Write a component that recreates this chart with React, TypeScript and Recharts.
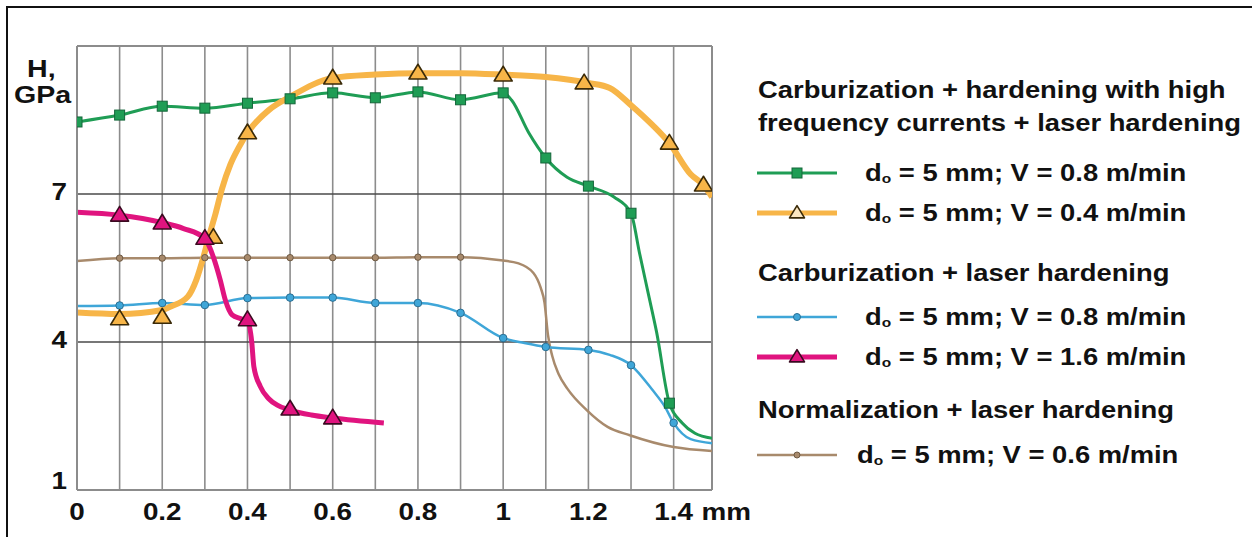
import { ComposedChart, Line, Scatter, XAxis, YAxis, CartesianGrid, ReferenceLine } from 'recharts';

// grid / ticks
const xGrid = [0, 0.1, 0.2, 0.3, 0.4, 0.5, 0.6, 0.7, 0.8, 0.9, 1.0, 1.1, 1.2, 1.3, 1.4];
const xTickLabels = ['0', '', '0.2', '', '0.4', '', '0.6', '', '0.8', '', '1', '', '1.2', '', '1.4'];
const yTicks = [1, 4, 7];

// Carburization + HFC hardening + laser, V = 0.8 (green)
const greenDepth = [0, 0.1, 0.2, 0.3, 0.4, 0.5, 0.6, 0.7, 0.8, 0.9, 1.0, 1.02, 1.06, 1.1, 1.15, 1.2, 1.26, 1.3, 1.32, 1.34, 1.36, 1.39, 1.42, 1.45, 1.49];
const greenH = [8.46, 8.6, 8.78, 8.74, 8.84, 8.93, 9.05, 8.95, 9.07, 8.91, 9.05, 8.9, 8.24, 7.73, 7.34, 7.16, 6.94, 6.61, 5.8, 5.0, 4.2, 2.76, 2.36, 2.15, 2.05];
const greenMarkDepth = [0, 0.1, 0.2, 0.3, 0.4, 0.5, 0.6, 0.7, 0.8, 0.9, 1.0, 1.1, 1.2, 1.3, 1.39];
const greenMarkH = [8.46, 8.6, 8.78, 8.74, 8.84, 8.93, 9.05, 8.95, 9.07, 8.91, 9.05, 7.73, 7.16, 6.61, 2.76];

// V = 0.4 (orange)
const orangeDepth = [0, 0.1, 0.2, 0.22, 0.26, 0.28, 0.296, 0.31, 0.325, 0.34, 0.36, 0.38, 0.4, 0.45, 0.5, 0.6, 0.7, 0.8, 0.9, 1.0, 1.1, 1.2, 1.25, 1.3, 1.35, 1.39, 1.44, 1.47, 1.49];
const orangeH = [4.6, 4.57, 4.65, 4.72, 4.92, 5.26, 5.7, 6.15, 6.6, 7.1, 7.6, 7.95, 8.24, 8.7, 8.97, 9.35, 9.42, 9.45, 9.45, 9.42, 9.37, 9.25, 9.15, 8.8, 8.4, 8.03, 7.4, 7.18, 6.94];
const orangeMarkDepth = [0.1, 0.2, 0.32, 0.4, 0.6, 0.8, 1.0, 1.19, 1.39, 1.47];
const orangeMarkH = [4.47, 4.5, 6.12, 8.24, 9.35, 9.45, 9.41, 9.25, 8.03, 7.18];

// Carburization + laser, V = 0.8 (blue)
const blueDepth = [0, 0.1, 0.2, 0.3, 0.4, 0.5, 0.6, 0.7, 0.8, 0.9, 1.0, 1.05, 1.1, 1.2, 1.25, 1.3, 1.35, 1.38, 1.4, 1.44, 1.49];
const blueH = [4.73, 4.74, 4.79, 4.75, 4.89, 4.9, 4.9, 4.79, 4.79, 4.59, 4.08, 3.98, 3.9, 3.84, 3.74, 3.53, 3.03, 2.68, 2.36, 2.03, 1.95];
const blueMarkDepth = [0.1, 0.2, 0.3, 0.4, 0.5, 0.6, 0.7, 0.8, 0.9, 1.0, 1.1, 1.2, 1.3, 1.4];
const blueMarkH = [4.74, 4.79, 4.75, 4.89, 4.9, 4.9, 4.79, 4.79, 4.59, 4.08, 3.9, 3.84, 3.53, 2.36];

// V = 1.6 (magenta)
const magentaDepth = [0, 0.1, 0.2, 0.25, 0.3, 0.32, 0.336, 0.348, 0.364, 0.385, 0.4, 0.41, 0.415, 0.43, 0.45, 0.47, 0.5, 0.55, 0.6, 0.72];
const magentaH = [6.63, 6.57, 6.42, 6.3, 6.1, 5.72, 5.26, 4.85, 4.55, 4.47, 4.42, 4.0, 3.5, 3.1, 2.85, 2.72, 2.62, 2.52, 2.46, 2.36];
const magentaMarkDepth = [0.1, 0.2, 0.3, 0.4, 0.5, 0.6];
const magentaMarkH = [6.57, 6.41, 6.1, 4.45, 2.64, 2.46];

// Normalization + laser, V = 0.6 (brown)
const brownDepth = [0, 0.1, 0.2, 0.3, 0.4, 0.5, 0.6, 0.7, 0.8, 0.9, 1.0, 1.034, 1.071, 1.088, 1.097, 1.105, 1.115, 1.13, 1.151, 1.196, 1.245, 1.297, 1.4, 1.49];
const brownH = [5.64, 5.7, 5.7, 5.71, 5.71, 5.71, 5.71, 5.71, 5.72, 5.72, 5.65, 5.6, 5.4, 5.1, 4.8, 4.15, 3.72, 3.35, 3.05, 2.62, 2.28, 2.11, 1.87, 1.79];
const brownMarkDepth = [0.1, 0.2, 0.3, 0.4, 0.5, 0.6, 0.7, 0.8, 0.9];
const brownMarkH = [5.7, 5.7, 5.71, 5.71, 5.71, 5.71, 5.71, 5.72, 5.72];

const legendTitles = [
  ['Carburization + hardening with high', 'frequency currents + laser hardening'],
  ['Carburization + laser hardening'],
  ['Normalization + laser hardening'],
];
const legendSpeeds = ['0.8', '0.4', '0.8', '1.6', '0.6'];

const toPoints = (xs: number[], ys: number[]) => xs.map((x, i) => ({ x, y: ys[i] }));

const FONT = "'Liberation Sans', Arial, Helvetica, sans-serif";
const STRETCH = 1.16;

const GREEN = '#1f9d55';
const ORANGE = '#f7b548';
const BLUE = '#3fa6d8';
const MAGENTA = '#e0147f';
const BROWN = '#a88a6c';

const triangle = (cx: number, cy: number, fill: string, stroke: string, w = 18) => {
  const h = w * 0.82;
  return (
    <polygon
      points={`${cx},${cy - h * 0.6} ${cx + w / 2},${cy + h * 0.4} ${cx - w / 2},${cy + h * 0.4}`}
      fill={fill}
      stroke={stroke}
      strokeWidth={1.6}
      strokeLinejoin="round"
    />
  );
};

const XTick = (props: any) => {
  const { x, y, index } = props;
  const label = xTickLabels[index];
  if (!label) return <g />;
  return (
    <g transform={`translate(${x},${y + 30})`}>
      <text transform={`scale(${STRETCH},1)`} textAnchor="middle" fontFamily={FONT} fontWeight="bold" fontSize={24} fill="#111">
        {label}
      </text>
      {label === '1.4' && (
        <text x={24} transform={`scale(${STRETCH},1)`} fontFamily={FONT} fontWeight="bold" fontSize={24} fill="#111">
          mm
        </text>
      )}
    </g>
  );
};

const YTick = (props: any) => {
  const { x, y, payload } = props;
  const shift = payload.value === 1 ? -10 : -3;
  return (
    <g transform={`translate(${x - 10},${y + shift})`}>
      <text transform={`scale(${STRETCH},1)`} textAnchor="end" dy="0.36em" fontFamily={FONT} fontWeight="bold" fontSize={24} fill="#111">
        {payload.value}
      </text>
    </g>
  );
};

const sample = (kind: string) => {
  const y = 14;
  if (kind === 'green')
    return (
      <svg width={84} height={28}>
        <line x1={1} x2={81} y1={y} y2={y} stroke={GREEN} strokeWidth={3} />
        <rect x={36} y={y - 5} width={10} height={10} fill={GREEN} stroke="#14663a" />
      </svg>
    );
  if (kind === 'orange')
    return (
      <svg width={84} height={28}>
        <line x1={1} x2={81} y1={y} y2={y} stroke={ORANGE} strokeWidth={5} />
        {triangle(41, y, '#fbe6c0', '#3a2a08', 15)}
      </svg>
    );
  if (kind === 'blue')
    return (
      <svg width={84} height={28}>
        <line x1={1} x2={81} y1={y} y2={y} stroke={BLUE} strokeWidth={2.5} />
        <circle cx={41} cy={y} r={3.5} fill={BLUE} stroke="#2a6f94" />
      </svg>
    );
  if (kind === 'magenta')
    return (
      <svg width={84} height={28}>
        <line x1={1} x2={81} y1={y} y2={y} stroke={MAGENTA} strokeWidth={5} />
        {triangle(41, y, MAGENTA, '#3a0a20', 15)}
      </svg>
    );
  return (
    <svg width={84} height={28}>
      <line x1={1} x2={81} y1={y} y2={y} stroke={BROWN} strokeWidth={2.5} />
      <circle cx={41} cy={y} r={3} fill={BROWN} stroke="#6e5a44" />
    </svg>
  );
};

const textStyle: React.CSSProperties = {
  position: 'absolute',
  fontFamily: FONT,
  fontWeight: 'bold',
  fontSize: 23,
  lineHeight: '28px',
  color: '#111',
  whiteSpace: 'nowrap',
  transform: `scaleX(${STRETCH + 0.03})`,
  transformOrigin: 'left center',
};

function LegendBlock() {
  const titleRows = [
    { text: legendTitles[0][0], cy: 90 },
    { text: legendTitles[0][1], cy: 123 },
    { text: legendTitles[1][0], cy: 273 },
    { text: legendTitles[2][0], cy: 410 },
  ];
  const entryRows = [
    { kind: 'green', cy: 173, tx: 865 },
    { kind: 'orange', cy: 213, tx: 865 },
    { kind: 'blue', cy: 317, tx: 865 },
    { kind: 'magenta', cy: 357, tx: 865 },
    { kind: 'brown', cy: 455, tx: 857 },
  ];
  return (
    <>
      {titleRows.map((r) => (
        <div key={r.cy} style={{ ...textStyle, left: 758, top: r.cy - 14 }}>
          {r.text}
        </div>
      ))}
      {entryRows.map((r, i) => (
        <div key={r.cy}>
          <div style={{ position: 'absolute', left: 756, top: r.cy - 14, width: 84, height: 28 }}>{sample(r.kind)}</div>
          <div style={{ ...textStyle, left: r.tx, top: r.cy - 14 }}>
            d<span style={{ fontSize: 13, verticalAlign: '-2px' }}>o</span> = 5 mm; V = {legendSpeeds[i]} m/min
          </div>
        </div>
      ))}
    </>
  );
}

export default function App() {
  return (
    <div style={{ position: 'absolute', left: 0, top: 0, width: 1252, height: 537, overflow: 'hidden', background: '#fff' }}>
      <div style={{ position: 'absolute', left: 6, top: 6, width: 1400, height: 700, borderTop: '2px solid #111', borderLeft: '2px solid #111' }} />
      <div style={{ position: 'absolute', left: 0, top: 0 }}>
        <ComposedChart width={760} height={537} margin={{ top: 46, right: 48, bottom: 7, left: 17 }}>
          <CartesianGrid horizontal={false} stroke="#8c8c8c" strokeWidth={1.6} />
          <CartesianGrid vertical={false} stroke="#4a4a4a" strokeWidth={1.6} />
          <XAxis
            dataKey="x"
            type="number"
            domain={[0, 1.49]}
            ticks={xGrid}
            interval={0}
            allowDataOverflow
            tick={<XTick />}
            tickLine={false}
            tickSize={0}
            tickMargin={0}
            axisLine={{ stroke: '#8c8c8c', strokeWidth: 2 }}
            height={40}
          />
          <YAxis
            dataKey="y"
            type="number"
            domain={[1, 10]}
            ticks={yTicks}
            interval={0}
            allowDataOverflow
            tick={<YTick />}
            tickLine={false}
            tickSize={0}
            tickMargin={0}
            axisLine={{ stroke: '#8c8c8c', strokeWidth: 2 }}
            width={60}
          />
          <ReferenceLine y={10} stroke="#8c8c8c" strokeWidth={2} />
          <ReferenceLine x={1.49} stroke="#8c8c8c" strokeWidth={2} />

          <Line data={toPoints(brownDepth, brownH)} dataKey="y" type="monotone" stroke={BROWN} strokeWidth={2.5} dot={false} isAnimationActive={false} />
          <Scatter data={toPoints(brownMarkDepth, brownMarkH)} dataKey="y" isAnimationActive={false}
            shape={(p: any) => <circle cx={p.cx} cy={p.cy} r={3.2} fill={BROWN} stroke="#6e5a44" strokeWidth={1} />} />

          <Line data={toPoints(blueDepth, blueH)} dataKey="y" type="monotone" stroke={BLUE} strokeWidth={2.5} dot={false} isAnimationActive={false} />
          <Scatter data={toPoints(blueMarkDepth, blueMarkH)} dataKey="y" isAnimationActive={false}
            shape={(p: any) => <circle cx={p.cx} cy={p.cy} r={3.8} fill={BLUE} stroke="#2a6f94" strokeWidth={1} />} />

          <Line data={toPoints(greenDepth, greenH)} dataKey="y" type="monotone" stroke={GREEN} strokeWidth={3} dot={false} isAnimationActive={false} />
          <Scatter data={toPoints(greenMarkDepth, greenMarkH)} dataKey="y" isAnimationActive={false}
            shape={(p: any) => <rect x={p.cx - 5} y={p.cy - 5} width={10} height={10} fill={GREEN} stroke="#14663a" strokeWidth={1} />} />

          <Line data={toPoints(orangeDepth, orangeH)} dataKey="y" type="monotone" stroke={ORANGE} strokeWidth={6} dot={false} isAnimationActive={false} />
          <Scatter data={toPoints(orangeMarkDepth, orangeMarkH)} dataKey="y" isAnimationActive={false}
            shape={(p: any) => triangle(p.cx, p.cy, ORANGE, '#3a2a08', 18)} />

          <Line data={toPoints(magentaDepth, magentaH)} dataKey="y" type="monotone" stroke={MAGENTA} strokeWidth={5} dot={false} isAnimationActive={false} />
          <Scatter data={toPoints(magentaMarkDepth, magentaMarkH)} dataKey="y" isAnimationActive={false}
            shape={(p: any) => triangle(p.cx, p.cy, MAGENTA, '#3a0a20', 18)} />
        </ComposedChart>
      </div>
      <div style={{ ...textStyle, left: 27, top: 55, fontSize: 24 }}>H,</div>
      <div style={{ ...textStyle, left: 14, top: 81, fontSize: 24 }}>GPa</div>
      <LegendBlock />
    </div>
  );
}
